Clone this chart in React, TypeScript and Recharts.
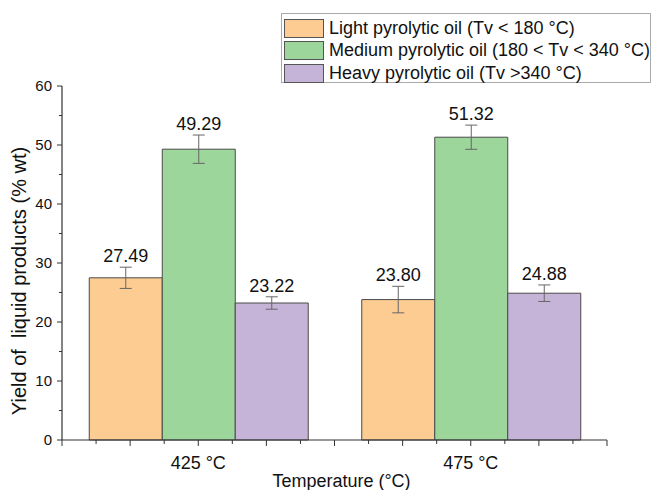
import { BarChart, Bar, XAxis, YAxis, ErrorBar, LabelList, Label } from "recharts";

const categories = ["425 °C", "475 °C"];
const seriesNames = [
  "Light pyrolytic oil (Tv < 180 °C)",
  "Medium pyrolytic oil (180 < Tv < 340 °C)",
  "Heavy pyrolytic oil (Tv >340 °C)",
];
const light = [27.49, 23.8];
const medium = [49.29, 51.32];
const heavy = [23.22, 24.88];
const lightErr = [1.8, 2.25];
const mediumErr = [2.4, 2.05];
const heavyErr = [1.05, 1.4];
const yTicks = [0, 5, 10, 15, 20, 25, 30, 35, 40, 45, 50, 55, 60];

const colors = ["#FDCC93", "#9DD69A", "#C5B4D7"];
const FONT = "'Liberation Sans', Arial, sans-serif";

const W = 651;
const H = 490;
const M = { top: 86, right: 44, left: 0, bottom: 0 };
const Y_W = 62;
const bandW = (W - M.left - M.right - Y_W) / categories.length;

const data = categories.map((c, i) => ({
  cat: c,
  light: light[i],
  medium: medium[i],
  heavy: heavy[i],
  lightErr: lightErr[i],
  mediumErr: mediumErr[i],
  heavyErr: heavyErr[i],
}));

const errs: Record<string, number[]> = { light: lightErr, medium: mediumErr, heavy: heavyErr };

const YTick = (props: any) => {
  const { x, y, payload } = props;
  const v = payload.value;
  const major = v % 10 === 0;
  return (
    <g>
      <line x1={x} x2={x - (major ? 5 : 3)} y1={y} y2={y} stroke="#333" strokeWidth={1} />
      {major && (
        <text x={x - 10} y={y + 5} textAnchor="end" fontSize={15} fontFamily={FONT} fill="#111">
          {v}
        </text>
      )}
    </g>
  );
};

const XTick = (props: any) => {
  const { x, y, payload } = props;
  const marks = [-4, -3, -2, -1, 0, 1, 2, 3, 4];
  return (
    <g>
      {marks.map((k) => (
        <line
          key={k}
          x1={x + (k * bandW) / 8}
          x2={x + (k * bandW) / 8}
          y1={y}
          y2={y + (k % 2 === 0 ? 6 : 4)}
          stroke="#333"
          strokeWidth={1}
        />
      ))}
      <text x={x} y={y + 29} textAnchor="middle" fontSize={18} fontFamily={FONT} fill="#111">
        {payload.value}
      </text>
    </g>
  );
};

const valueLabel = (key: string) => (props: any) => {
  const { x, y, width, height, value, index } = props;
  const errPx = (errs[key][index] * height) / value;
  return (
    <text
      x={x + width / 2}
      y={y - errPx - 5}
      textAnchor="middle"
      fontSize={18}
      fontFamily={FONT}
      fill="#111"
    >
      {Number(value).toFixed(2)}
    </text>
  );
};

const keys = ["light", "medium", "heavy"];

export default function App() {
  return (
    <div style={{ position: "absolute", left: 0, top: 0, width: W, height: H, background: "#fff" }}>
      <BarChart width={W} height={H} data={data} margin={M} barCategoryGap="10%" barGap={0}>
        <XAxis
          dataKey="cat"
          height={50}
          tickSize={0}
          tickMargin={0}
          tickLine={false}
          axisLine={{ stroke: "#333", strokeWidth: 1.2 }}
          tick={<XTick />}
          interval={0}
        >
          <Label
            content={(p: any) => (
              <text
                x={p.viewBox.x + p.viewBox.width / 2 + 7}
                y={487}
                textAnchor="middle"
                fontSize={18}
                fontFamily={FONT}
                fill="#111"
              >
                Temperature (°C)
              </text>
            )}
          />
        </XAxis>
        <YAxis
          width={Y_W}
          domain={[0, 60]}
          ticks={yTicks}
          interval={0}
          tickSize={0}
          tickMargin={0}
          tickLine={false}
          axisLine={{ stroke: "#333", strokeWidth: 1.2 }}
          tick={<YTick />}
        >
          <Label
            content={() => (
              <text
                x={26}
                y={281}
                transform="rotate(-90, 26, 281)"
                textAnchor="middle"
                fontSize={20}
                fontFamily={FONT}
                fill="#111"
                style={{ whiteSpace: "pre" }}
              >
                Yield of  liquid products (% wt)
              </text>
            )}
          />
        </YAxis>
        {keys.map((k, i) => (
          <Bar
            key={k}
            dataKey={k}
            name={seriesNames[i]}
            fill={colors[i]}
            stroke="#4a4a4a"
            strokeWidth={1}
            isAnimationActive={false}
          >
            <ErrorBar dataKey={k + "Err"} width={6} stroke="#666" strokeWidth={1} direction="y" isAnimationActive={false} />
            <LabelList dataKey={k} content={valueLabel(k)} />
          </Bar>
        ))}
      </BarChart>
      <div
        style={{
          position: "absolute",
          left: 281,
          top: 13,
          width: 370,
          height: 70,
          boxSizing: "border-box",
          border: "1px solid #aaa",
          background: "#fff",
          paddingTop: 3,
          paddingLeft: 2,
          fontFamily: FONT,
          fontSize: 18,
          color: "#111",
        }}
      >
        {seriesNames.map((n, i) => (
          <div key={n} style={{ display: "flex", alignItems: "center", height: 22.5, whiteSpace: "nowrap" }}>
            <span
              style={{
                display: "inline-block",
                width: 40,
                height: 19,
                boxSizing: "border-box",
                border: "1px solid #555",
                background: colors[i],
                marginRight: 5,
              }}
            />
            {n}
          </div>
        ))}
      </div>
    </div>
  );
}
